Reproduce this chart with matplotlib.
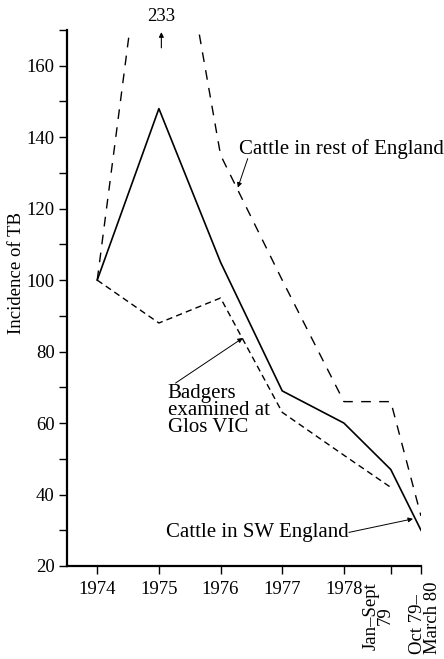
import matplotlib.pyplot as plt
from matplotlib.ticker import MultipleLocator
from matplotlib.transforms import offset_copy

plt.rcParams['font.family'] = ['Liberation Serif', 'DejaVu Serif']

# x positions of the periods (years since 1974, last two spaced as in the source)
periods = [0, 1, 2, 3, 4, 4.76, 5.25]
period_labels = ['1974', '1975', '1976', '1977', '1978',
                 'Jan\u2013Sept\n79', 'Oct 79\u2013\nMarch 80']

cattle_sw = [100, 148, 105, 69, 60, 47, 30]
cattle_rest = [100, 233, 135, 100, 66, 66, 34]
badgers = [100, 88, 95, 63, 51, 42]

fig = plt.figure(figsize=(4.44, 6.59), dpi=100)
ax = fig.add_axes([67 / 444, 93 / 659, 354 / 444, 536 / 659])

ax.plot(periods, cattle_sw, color='k', lw=1.2)
ax.plot(periods, cattle_rest, color='k', lw=1.0, dashes=(7, 6))
ax.plot(periods[:len(badgers)], badgers, color='k', lw=1.0, dashes=(4.5, 3))

ax.set_xlim(-0.49, 5.25)
ax.set_ylim(20, 170)

for s in ['top', 'right']:
    ax.spines[s].set_visible(False)
ax.spines['left'].set_linewidth(1.6)
ax.spines['bottom'].set_linewidth(1.6)

# plain years as tick labels, the two rotated period labels drawn by hand
ax.set_xticks(periods)
ax.set_xticklabels(period_labels[:5] + ['', ''])
xtrans = ax.get_xaxis_transform()
ax.text(periods[5], 0, period_labels[5], rotation=90, ha='right', va='top',
        multialignment='center', linespacing=0.8, fontsize=13.5,
        transform=offset_copy(xtrans, fig=fig, x=3, y=-16, units='dots'))
ax.text(periods[6], 0, period_labels[6], rotation=90, ha='center', va='top',
        multialignment='left', linespacing=0.8, fontsize=13.5,
        transform=offset_copy(xtrans, fig=fig, x=4, y=-16, units='dots'))

ax.yaxis.set_major_locator(MultipleLocator(20))
ax.yaxis.set_minor_locator(MultipleLocator(10))
ax.tick_params(axis='both', which='both', direction='out', length=6,
               width=1.0, labelsize=13.5, pad=3)
ax.tick_params(axis='x', pad=5)

ax.set_ylabel('Incidence of TB', fontsize=13.5)
ax.yaxis.set_label_coords(-0.12, 0.547)

# off-scale peak
ax.text(1.04, 171.3, '233', ha='center', va='bottom', fontsize=13.5, clip_on=False)
ax.annotate('', xy=(1.04, 169.4), xytext=(1.04, 165.0), annotation_clip=False,
            arrowprops=dict(arrowstyle='-|>', lw=0.8, color='k',
                            mutation_scale=7, shrinkA=0, shrinkB=0))

arrow = dict(arrowstyle='-|>', lw=0.7, color='k', mutation_scale=7,
             shrinkA=0, shrinkB=0)

ax.text(2.3, 136.8, 'Cattle in rest of England', ha='left', va='center', fontsize=15)
ax.annotate('', xy=(2.28, 125.9), xytext=(2.44, 134.0), arrowprops=arrow)

ax.text(1.14, 71.0, 'Badgers\nexamined at\nGlos VIC', ha='left', va='top',
        fontsize=15, linespacing=0.85)
ax.annotate('', xy=(2.36, 83.8), xytext=(1.27, 71.2), arrowprops=arrow)

ax.text(1.12, 29.4, 'Cattle in SW England', ha='left', va='center', fontsize=15)
ax.annotate('', xy=(5.12, 33.2), xytext=(4.08, 29.4), arrowprops=arrow)

plt.savefig('out.png', dpi=100)
